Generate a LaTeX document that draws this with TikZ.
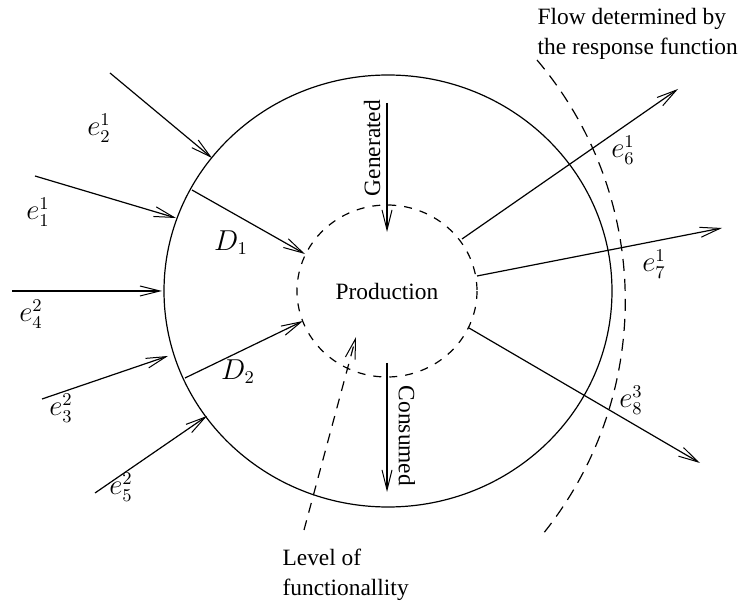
\documentclass[tikz,border=0pt]{standalone}
\usepackage[no-math]{fontspec}
\setmainfont{Liberation Serif}
\usetikzlibrary{arrows.meta}
\tikzset{
  flow/.style={-{Straight Barb[length=10pt,width=5pt,line width=0.5pt]}},
  lbl/.style={font=\fontsize{11.7}{15}\selectfont},
  mlbl/.style={font=\fontsize{13.5}{16}\selectfont,inner sep=1pt},
}
\begin{document}
\begin{tikzpicture}[x=0.5pt,y=-0.5pt,line width=0.6pt]
        \useasboundingbox (0,0) rectangle (751,604);
        % the node and its production core
        \coordinate (c) at (388,291);
        \coordinate (p) at (387,291);
        \draw (c) ellipse [x radius=224,y radius=216];
        \draw[dash pattern=on 4pt off 4pt] (p) ellipse [x radius=90,y radius=86];
        \node[lbl] (prod) at (p) {Production};
        % response function boundary
        \coordinate (rtop) at (537,60);
        \draw[dash pattern=on 6pt off 4pt] (rtop) arc [start angle=-40.3,end angle=38.5,radius=372];
        % incoming flows
        \coordinate (a21) at (110,73);  \coordinate (b21) at (212,158);
        \coordinate (a11) at (35,176);  \coordinate (b11) at (176,218);
        \coordinate (a42) at (12,291);  \coordinate (b42) at (162,291);
        \coordinate (a32) at (42,399);  \coordinate (b32) at (168,356);
        \coordinate (a52) at (95,493);  \coordinate (b52) at (207,416);
        \draw[flow] (a21) -- (b21);
        \draw[flow] (a11) -- (b11);
        \draw[flow] (a42) -- (b42);
        \draw[flow] (a32) -- (b32);
        \draw[flow] (a52) -- (b52);
        \node[mlbl] (e21) at (99,128) {$e_2^1$};
        \node[mlbl] (e11) at (38,212) {$e_1^1$};
        \node[mlbl] (e42) at (31,314) {$e_4^2$};
        \node[mlbl] (e32) at (61,408) {$e_3^2$};
        \node[mlbl] (e52) at (121,487) {$e_5^2$};
        % demand towards production
        \coordinate (ad1) at (192,190); \coordinate (bd1) at (305,254);
        \coordinate (ad2) at (185,378); \coordinate (bd2) at (303,321);
        \draw[flow] (ad1) -- (bd1);
        \draw[flow] (ad2) -- (bd2);
        \node[mlbl] (d1) at (231,243) {$D_1$};
        \node[mlbl] (d2) at (238,372) {$D_2$};
        % generated and consumed
        \coordinate (ag) at (387,103); \coordinate (bg) at (387,232);
        \coordinate (ac) at (387,363); \coordinate (bc) at (387,492);
        \draw[flow] (ag) -- (bg);
        \draw[flow] (ac) -- (bc);
        \node[lbl,rotate=90] (gen) at (372,148) {Generated};
        \node[lbl,rotate=-90] (cons) at (407,436) {Consumed};
        % outgoing flows
        \coordinate (a61) at (462,239); \coordinate (b61) at (678,89);
        \coordinate (a71) at (477,276); \coordinate (b71) at (722,228);
        \coordinate (a83) at (469,328); \coordinate (b83) at (700,463);
        \draw[flow] (a61) -- (b61);
        \draw[flow] (a71) -- (b71);
        \draw[flow] (a83) -- (b83);
        \node[mlbl] (e61) at (623,150) {$e_6^1$};
        \node[mlbl] (e71) at (654,264) {$e_7^1$};
        \node[mlbl] (e83) at (631,400) {$e_8^3$};
        % level of functionallity
        \coordinate (al) at (304,530); \coordinate (bl) at (356,337);
        \draw[flow,dash pattern=on 5pt off 4pt] (al) -- (bl);
        \node[lbl,align=left,anchor=north west,inner sep=0pt] (lev) at (282,548) {Level of\\functionallity};
        \node[lbl,align=left,anchor=north west,inner sep=0pt] (resp) at (537,8) {Flow determined by\\the response function};
\end{tikzpicture}
\end{document}
